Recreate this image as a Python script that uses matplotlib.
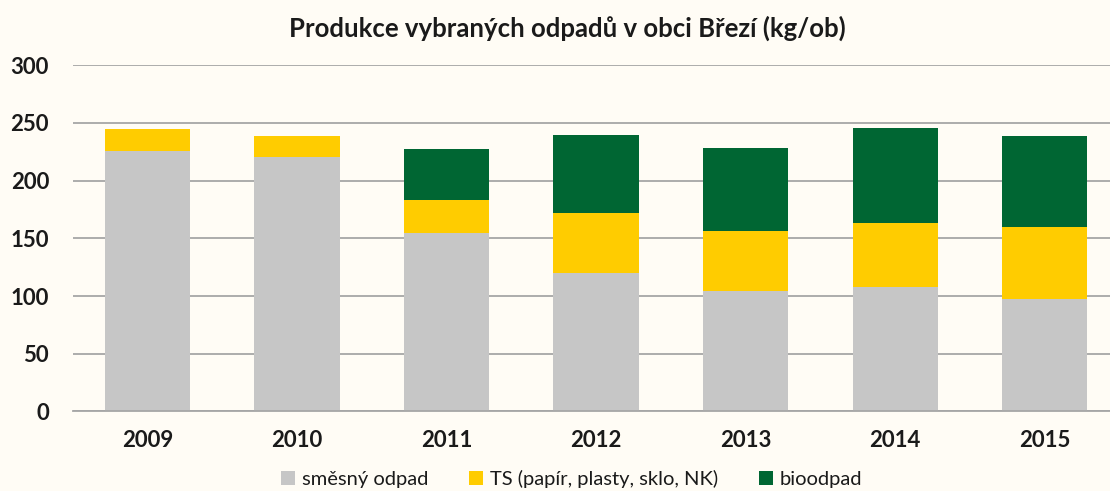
import matplotlib
matplotlib.use("Agg")
import matplotlib.pyplot as plt
import numpy as np

years = ["2009", "2010", "2011", "2012", "2013", "2014", "2015"]
smesny = [225.5, 220.8, 154.4, 119.8, 104.2, 107.9, 97.2]
ts = [19.3, 18.2, 28.6, 51.9, 52.0, 55.7, 62.4]
bio = [0, 0, 44.2, 67.9, 72.1, 82.3, 79.1]
labels = ["směsný odpad", "TS (papír, plasty, sklo, NK)", "bioodpad"]
colors = ["#C6C6C6", "#FFCC00", "#006633"]
yticks = [0, 50, 100, 150, 200, 250, 300]

plt.rcParams['font.family'] = ['Lato', 'DejaVu Sans']
bg = "#FFFCF5"
fig = plt.figure(figsize=(11.10, 4.91), dpi=100, facecolor=bg)
ax = fig.add_axes([0.0655, 0.162, 0.943, 0.705], facecolor=bg)

x = np.arange(len(years))
w = 0.57
b1 = ax.bar(x, smesny, w, color=colors[0], label=labels[0], zorder=2)
b2 = ax.bar(x, ts, w, bottom=smesny, color=colors[1], label=labels[1], zorder=2)
bottom2 = np.array(smesny) + np.array(ts)
b3 = ax.bar(x, bio, w, bottom=bottom2, color=colors[2], label=labels[2], zorder=2)

ax.set_ylim(0, 300)
ax.set_xlim(-0.5, len(years) - 0.5)
ax.set_yticks(yticks)
ax.set_yticklabels([str(t) for t in yticks], fontsize=16, fontweight='bold', color='#1a1a1a')
ax.set_xticks(x)
ax.set_xticklabels(years, fontsize=16, fontweight='bold', color='#1a1a1a')
ax.yaxis.grid(True, color='#A6A6A6', linewidth=1.3, zorder=0)
ax.set_axisbelow(True)
for s in ['top', 'right', 'left']:
    ax.spines[s].set_visible(False)
ax.spines['bottom'].set_color('#A6A6A6')
ax.spines['bottom'].set_linewidth(1.3)
ax.tick_params(axis='both', length=0)
ax.tick_params(axis='x', pad=13)
ax.tick_params(axis='y', pad=17)

fig.text(0.511, 0.943, "Produkce vybraných odpadů v obci Březí (kg/ob)", ha='center', va='center',
         fontsize=18.5, fontweight='bold', color='#1a1a1a')

leg = fig.legend(handles=[b1, b2, b3], labels=labels, loc='center', bbox_to_anchor=(0.515, 0.024),
                 ncol=3, frameon=False, fontsize=14.5, handlelength=0.7, handleheight=0.7,
                 columnspacing=2.0, handletextpad=0.35)
for t in leg.get_texts():
    t.set_color('#1a1a1a')

fig.savefig("out.png", dpi=100, facecolor=bg)
